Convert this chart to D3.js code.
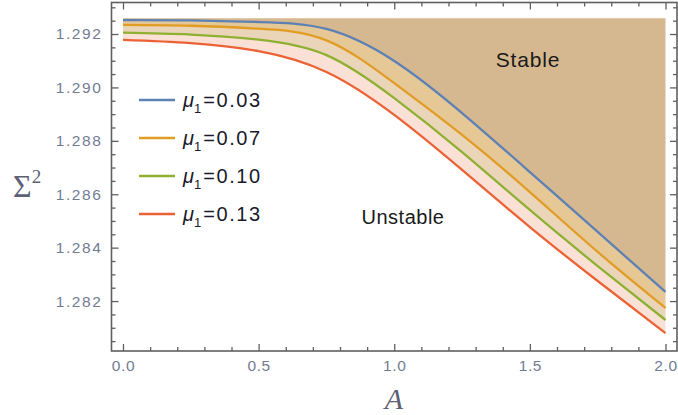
<!DOCTYPE html>
<html>
<head>
<script src="https://d3js.org/d3.v7.min.js"></script>
<style>
  body { margin: 0; background: #fff; }
  svg { display: block; }
</style>
</head>
<body>
<script>
// data
let aVals = [0, 0.25, 0.5, 0.75, 1.0, 1.25, 1.5, 1.75, 2.0];
let mu003 = [1.29252, 1.29251, 1.29245, 1.29219, 1.29099, 1.28904, 1.28683, 1.28459, 1.28234];
let mu007 = [1.29234, 1.29231, 1.29220, 1.29176, 1.29016, 1.28822, 1.28608, 1.28384, 1.28174];
let mu010 = [1.29205, 1.29198, 1.29179, 1.29121, 1.28960, 1.28758, 1.28541, 1.28331, 1.28129];
let mu013 = [1.29178, 1.29166, 1.29136, 1.29058, 1.28897, 1.28691, 1.28477, 1.28275, 1.28080];
let stableTop = 1.29259;
let muLabels = ["0.03", "0.07", "0.10", "0.13"];
let xTicks = [0, 0.5, 1.0, 1.5, 2.0];
let yTicks = [1.282, 1.284, 1.286, 1.288, 1.290, 1.292];

let width = 678, height = 415;
let lineColors = ["#5e81b5", "#e19c24", "#8fb032", "#eb6235"];
let bandColors = ["#e6c796", "#ebd5b8", "#fbe0d6"];
let stableColor = "#d5b88f";

let svg = d3.select("body").append("svg")
    .attr("width", width).attr("height", height);

let x = d3.scaleLinear().domain([-0.0424, 2.0424]).range([111.5, 677]);
let y = d3.scaleLinear().domain([1.28013, 1.29318]).range([351, 2.5]);

let series = [mu003, mu007, mu010, mu013];
let rows = series.map(s => aVals.map((a, i) => ({a: a, v: s[i]})));
let curve = d3.curveNatural;

// stable region above the mu=0.03 curve
let stableArea = d3.area()
    .x(d => x(d.a)).y0(y(stableTop)).y1(d => y(d.v))
    .curve(curve);
svg.append("path").datum(rows[0])
    .attr("d", stableArea).attr("fill", stableColor);

// bands between neighbouring curves
for (let k = 0; k < 3; k++) {
  let band = aVals.map((a, i) => ({a: a, hi: series[k][i], lo: series[k + 1][i]}));
  svg.append("path").datum(band)
      .attr("d", d3.area().x(d => x(d.a)).y0(d => y(d.hi)).y1(d => y(d.lo)).curve(curve))
      .attr("fill", bandColors[k]);
}

let line = d3.line().x(d => x(d.a)).y(d => y(d.v)).curve(curve);
rows.forEach((r, k) => {
  svg.append("path").datum(r)
      .attr("d", line).attr("fill", "none")
      .attr("stroke", lineColors[k]).attr("stroke-width", 2.3);
});

// frame and ticks (inward)
let frameColor = "#5f5f5f";
let xMinor = d3.range(0, 2.01, 0.1).map(v => +v.toFixed(1)).filter(v => xTicks.indexOf(v) < 0);
let yMinor = d3.range(1.2805, 1.2931, 0.0005).map(v => +v.toFixed(4)).filter(v => yTicks.indexOf(v) < 0);

function styleAxis(g) {
  g.select(".domain").remove();
  g.selectAll("line").attr("stroke", frameColor).attr("stroke-width", 1.3);
  g.selectAll("text").attr("fill", "#737c93")
      .style("font-family", "Liberation Sans, Arial, sans-serif").style("font-size", "15.5px");
}

svg.append("g").attr("transform", "translate(0,351)")
    .call(d3.axisBottom(x).tickValues(xTicks).tickFormat(d3.format(".1f")).tickSizeInner(-7).tickSizeOuter(0).tickPadding(9))
    .call(styleAxis)
    .selectAll("text").style("letter-spacing", "0.6px");
svg.append("g").attr("transform", "translate(0,351)")
    .call(d3.axisBottom(x).tickValues(xMinor).tickFormat("").tickSizeInner(-4).tickSizeOuter(0))
    .call(styleAxis);
svg.append("g").attr("transform", "translate(0,2.5)")
    .call(d3.axisTop(x).tickValues(xTicks).tickFormat("").tickSizeInner(-7).tickSizeOuter(0))
    .call(styleAxis);
svg.append("g").attr("transform", "translate(0,2.5)")
    .call(d3.axisTop(x).tickValues(xMinor).tickFormat("").tickSizeInner(-4).tickSizeOuter(0))
    .call(styleAxis);
svg.append("g").attr("transform", "translate(111.5,0)")
    .call(d3.axisLeft(y).tickValues(yTicks).tickFormat(d3.format(".3f")).tickSizeInner(-7).tickSizeOuter(0).tickPadding(9))
    .call(styleAxis)
    .selectAll("text").style("letter-spacing", "1.6px");
svg.append("g").attr("transform", "translate(111.5,0)")
    .call(d3.axisLeft(y).tickValues(yMinor).tickFormat("").tickSizeInner(-4).tickSizeOuter(0))
    .call(styleAxis);
svg.append("g").attr("transform", "translate(677,0)")
    .call(d3.axisRight(y).tickValues(yTicks).tickFormat("").tickSizeInner(-7).tickSizeOuter(0))
    .call(styleAxis);
svg.append("g").attr("transform", "translate(677,0)")
    .call(d3.axisRight(y).tickValues(yMinor).tickFormat("").tickSizeInner(-4).tickSizeOuter(0))
    .call(styleAxis);

svg.append("rect")
    .attr("x", 111.5).attr("y", 2.5).attr("width", 677 - 111.5).attr("height", 351 - 2.5)
    .attr("fill", "none").attr("stroke", frameColor).attr("stroke-width", 1.6);

// axis titles
svg.append("text").attr("x", 394).attr("y", 409).attr("text-anchor", "middle")
    .style("font-family", "Liberation Serif, DejaVu Serif, serif").style("font-style", "italic")
    .style("font-size", "30px").attr("fill", "#5c6075").text("A");
let sig = svg.append("text").attr("x", 13).attr("y", 197)
    .style("font-family", "Liberation Serif, DejaVu Serif, serif")
    .style("font-size", "32px").attr("fill", "#5c6075");
sig.append("tspan").text("Σ");
sig.append("tspan").attr("dy", -14).style("font-size", "19px").text("2");

// legend
let legY = [100, 138, 176, 214];
muLabels.forEach((m, k) => {
  svg.append("line").attr("x1", 139).attr("x2", 175)
      .attr("y1", legY[k]).attr("y2", legY[k])
      .attr("stroke", lineColors[k]).attr("stroke-width", 2.3);
  let t = svg.append("text").attr("x", 183).attr("y", legY[k] + 7)
      .style("font-family", "Liberation Sans, Arial, sans-serif")
      .style("font-size", "20px").attr("fill", "#1a1a2a");
  t.append("tspan").style("font-style", "italic").text("μ");
  t.append("tspan").attr("dy", 6).style("font-size", "13px").text("1");
  t.append("tspan").attr("dy", -6).attr("dx", 2).style("letter-spacing", "1.6px").text("=" + m);
});

// region labels
svg.append("text").attr("x", 528).attr("y", 67).attr("text-anchor", "middle")
    .style("font-family", "Liberation Sans, Arial, sans-serif").style("font-size", "21px")
    .style("letter-spacing", "0.8px").attr("fill", "#1a1a1a").text("Stable");
svg.append("text").attr("x", 403).attr("y", 224).attr("text-anchor", "middle")
    .style("font-family", "Liberation Sans, Arial, sans-serif").style("font-size", "20px")
    .style("letter-spacing", "0.5px").attr("fill", "#1a1a1a").text("Unstable");
</script>
</body>
</html>
